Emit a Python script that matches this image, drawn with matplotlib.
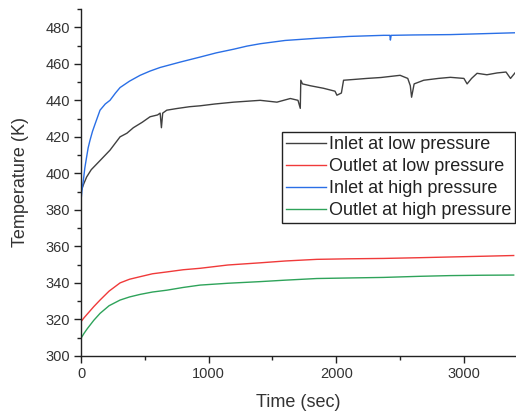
import matplotlib

matplotlib.use("Agg")

import matplotlib.pyplot as plt
from matplotlib.ticker import MultipleLocator

plt.rcParams["font.family"] = ["Liberation Sans", "DejaVu Sans"]

# values (time in s, temperature in K)
t_inlet_low = [0, 20, 44, 80, 149, 227, 306, 360, 410, 480, 541, 600, 620, 630, 640,
               672, 750, 850, 933, 1050, 1196, 1300, 1404, 1535, 1640, 1700, 1718,
               1722, 1735, 1796, 1900, 1990, 2005, 2040, 2057, 2150, 2240, 2350,
               2500, 2560, 2580, 2590, 2610, 2685, 2800, 2894, 3000, 3025, 3060,
               3103, 3180, 3260, 3330, 3365, 3400]
T_inlet_low = [390, 394, 398, 402, 407, 412.7, 420, 422, 425, 428, 431, 432, 433,
               425, 433, 434.6, 435.5, 436.5, 437, 438, 439, 439.5, 440, 439, 441,
               440, 435.6, 451, 449, 448, 446.6, 445, 442.8, 444, 451, 451.5, 452,
               452.5, 453.7, 452, 448, 441.7, 449, 451, 452, 452.6, 452, 449, 452,
               454.8, 454, 455, 455.5, 452, 455]

t_outlet_low = [0, 25, 50, 100, 149, 220, 306, 380, 463, 560, 672, 800, 933, 1150,
                1404, 1600, 1848, 2100, 2370, 2650, 2894, 3150, 3390]
T_outlet_low = [318.8, 321, 323, 327, 330.6, 335.5, 340, 342, 343.4, 345, 346, 347.2,
                348, 349.8, 351, 352, 352.9, 353.2, 353.4, 353.8, 354.2, 354.6, 355]

t_inlet_high = [0, 8, 18, 30, 44, 56, 70, 90, 110, 149, 190, 227, 270, 306, 380, 463,
                540, 620, 780, 933, 1060, 1196, 1300, 1404, 1600, 1850, 2100, 2370,
                2420, 2424, 2430, 2600, 2894, 3150, 3400]
T_inlet_high = [385, 391, 396, 403, 409, 414, 418, 423, 427, 434.6, 438, 440, 444,
                447, 450.5, 453.7, 456, 458, 461, 463.7, 466, 468, 469.7, 471, 472.8,
                474, 475, 475.6, 475.6, 473, 475.6, 475.8, 476, 476.5, 477]

t_outlet_high = [0, 25, 50, 100, 149, 220, 306, 380, 463, 560, 672, 800, 933, 1150,
                 1404, 1600, 1848, 2100, 2370, 2650, 2894, 3150, 3390]
T_outlet_high = [309.7, 312.5, 315, 319.5, 323.3, 327.5, 330.6, 332.3, 333.7, 335,
                 336, 337.5, 338.8, 339.8, 340.7, 341.5, 342.4, 342.7, 343, 343.6,
                 344, 344.2, 344.3]

series = [
    ("Inlet at low pressure", t_inlet_low, T_inlet_low, "#404040"),
    ("Outlet at low pressure", t_outlet_low, T_outlet_low, "#f03a3a"),
    ("Inlet at high pressure", t_inlet_high, T_inlet_high, "#2a6fe6"),
    ("Outlet at high pressure", t_outlet_high, T_outlet_high, "#2ea35a"),
]

fig = plt.figure(figsize=(5.16, 4.11), dpi=100)
ax = fig.add_axes([0.157, 0.134, 0.841, 0.844])

for label, t, T, color in series:
    ax.plot(t, T, color=color, lw=1.0, label=label)

ax.set_xlim(0, 3400)
ax.set_ylim(300, 490)
ax.xaxis.set_major_locator(MultipleLocator(1000))
ax.xaxis.set_minor_locator(MultipleLocator(500))
ax.yaxis.set_major_locator(MultipleLocator(20))
ax.yaxis.set_minor_locator(MultipleLocator(10))
ax.set_yticks([300, 320, 340, 360, 380, 400, 420, 440, 460, 480])

ax.spines["top"].set_visible(False)
ax.spines["right"].set_visible(False)
for side in ["left", "bottom"]:
    ax.spines[side].set_color("#222222")
    ax.spines[side].set_linewidth(1.0)
ax.tick_params(which="major", direction="out", length=5, width=1,
               color="#222222", labelsize=10.5, labelcolor="#333333", pad=3)
ax.tick_params(which="minor", direction="out", length=3, width=1, color="#222222")

ax.set_xlabel("Time (sec)", fontsize=13, color="#333333", labelpad=9)
ax.set_ylabel("Temperature (K)", fontsize=13, color="#333333", labelpad=12)

leg = ax.legend(loc="upper right", bbox_to_anchor=(1.0, 0.645), fontsize=13,
                frameon=True, fancybox=False, framealpha=1, edgecolor="#222222",
                handlelength=2.2, handletextpad=0.15, borderpad=0.22,
                labelspacing=0.28, borderaxespad=0)
leg.get_frame().set_linewidth(1.0)
for txt in leg.get_texts():
    txt.set_color("#222222")

fig.savefig("out.png", dpi=100, facecolor="white")
